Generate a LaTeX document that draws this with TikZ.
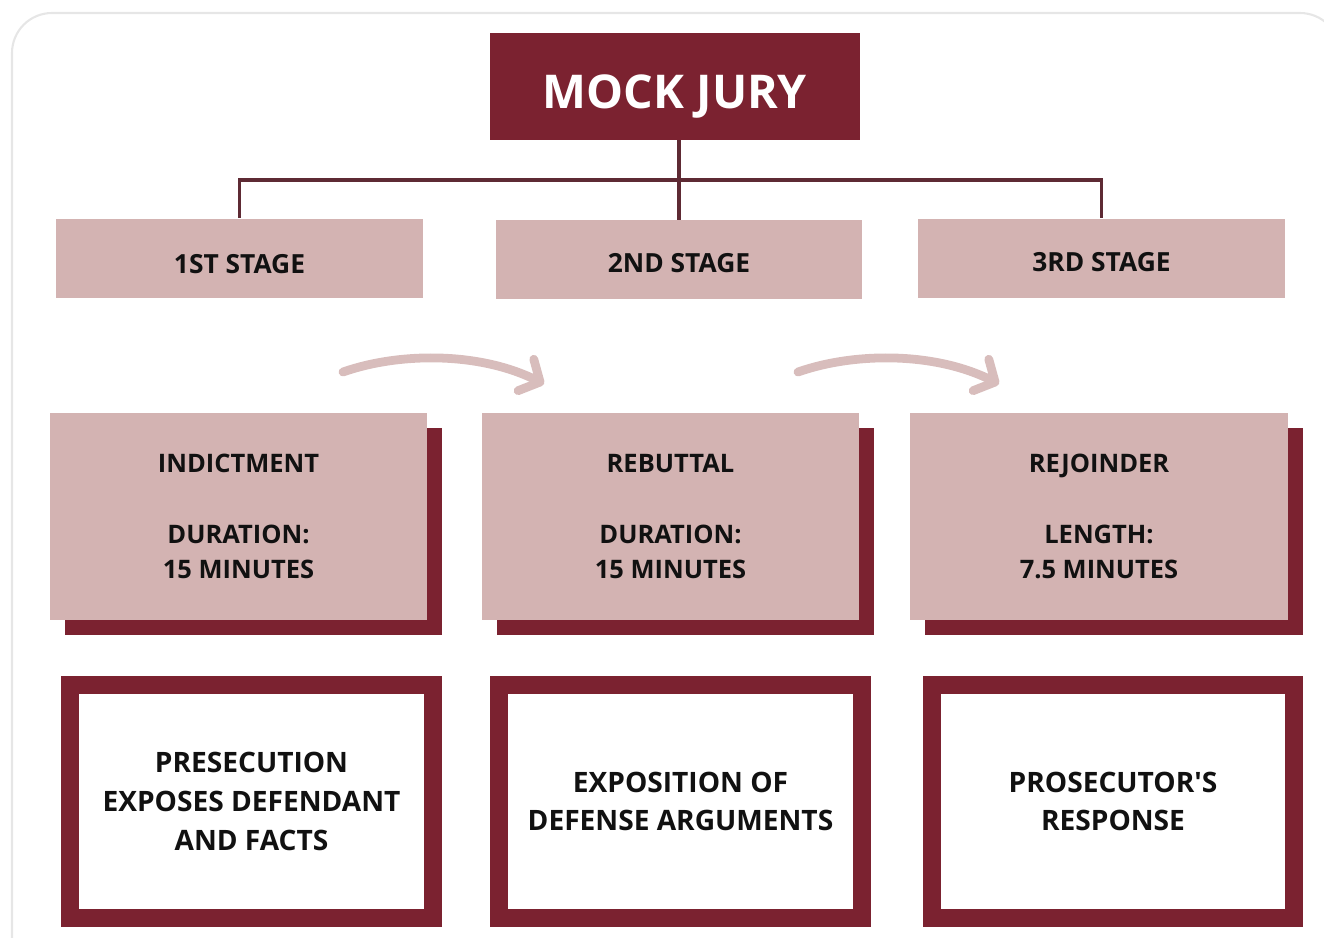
\documentclass[tikz,border=0pt]{standalone}
\usepackage{fontspec}
\setmainfont{Open Sans}
\usepackage{tikz}
\usetikzlibrary{calc}
\usetikzlibrary{arrows.meta}

\definecolor{wine}{HTML}{7B2230}
\definecolor{rose}{HTML}{D3B3B2}
\definecolor{roselight}{HTML}{D8BDBC}
\definecolor{linkc}{HTML}{5E2A34}
\definecolor{ink}{HTML}{111111}
\definecolor{cardline}{HTML}{E6E6E6}

\begin{document}
\begin{tikzpicture} [x=0.02cm, y=-0.02cm,
  titlebox/.style={fill=wine, text=white, minimum width=7.4cm, minimum height=2.14cm, text height=25pt, text depth=0pt, font=\bfseries\fontsize{26.5}{30}\selectfont},
  stagebox/.style={fill=rose, text=ink, minimum width=7.34cm, minimum height=1.58cm, text height=15pt, text depth=0pt, font=\bfseries\fontsize{15}{18}\selectfont},
  partbox/.style={fill=rose, text=ink, minimum width=7.56cm, minimum height=4.14cm, align=center, font=\bfseries\fontsize{14.5}{20}\selectfont},
  shadowbox/.style={fill=wine, minimum width=7.56cm, minimum height=4.14cm},
  notebox/.style={draw=wine, line width=0.36cm, fill=white, text=ink, minimum width=7.26cm, minimum height=4.66cm, align=center, font=\bfseries\fontsize{16}{22}\selectfont},
  link/.style={draw=linkc, line width=2.2pt},
  flow/.style={draw=roselight, line width=5pt, line cap=round, -{Straight Barb[length=9pt, width=20pt, round]}}]

\useasboundingbox (0,0) rectangle (1324,937);

% card behind everything
\begin{scope}
\clip (0,0) rectangle (1324,937);
\draw[cardline, line width=1.2pt, rounded corners=0.8cm] (12,13) rectangle (1340,990);
\end{scope}

\node[titlebox] (title) at (675,86.5) {MOCK JURY};

\node[stagebox, text height=18pt] (stage1) at (239.5,258) {1ST STAGE};
\node[stagebox] (stage2) at (679,259.5) {2ND STAGE};
\node[stagebox] (stage3) at (1101.5,258) {3RD STAGE};

\coordinate (bus) at (679,180);
\draw[link] (title.south -| stage2.north) -- (stage2.north);
\draw[link] (stage1.north) |- (bus) -| (stage3.north);

% stages with shadow
\foreach \n/\x/\txt in {1/238.5/{INDICTMENT\\[20pt]DURATION:\\15 MINUTES},
                        2/670.5/{REBUTTAL\\[20pt]DURATION:\\15 MINUTES},
                        3/1099/{REJOINDER\\[20pt]LENGTH:\\7.5 MINUTES}}
{
 \node[shadowbox] (shadow\n) at (\x+15,531.5) {};
 \node[partbox] (part\n) at (\x,516.5) {\txt};
}

\node[notebox] (note1) at (251.5,801.5) {PRESECUTION\\EXPOSES DEFENDANT\\AND FACTS};
\node[notebox] (note2) at (680.5,801.5) {EXPOSITION OF\\DEFENSE ARGUMENTS};
\node[notebox] (note3) at (1113,801.5) {PROSECUTOR\textquotesingle S\\RESPONSE};

% curved arrows between stages
\coordinate (go1) at (343,372);
\coordinate (to1) at (544,384);
\coordinate (go2) at (798,372);
\coordinate (to2) at (999,384);
\draw[flow] (go1) .. controls (400,352) and (480,352) .. (to1);
\draw[flow] (go2) .. controls (855,352) and (935,352) .. (to2);

\end{tikzpicture}
\end{document}
